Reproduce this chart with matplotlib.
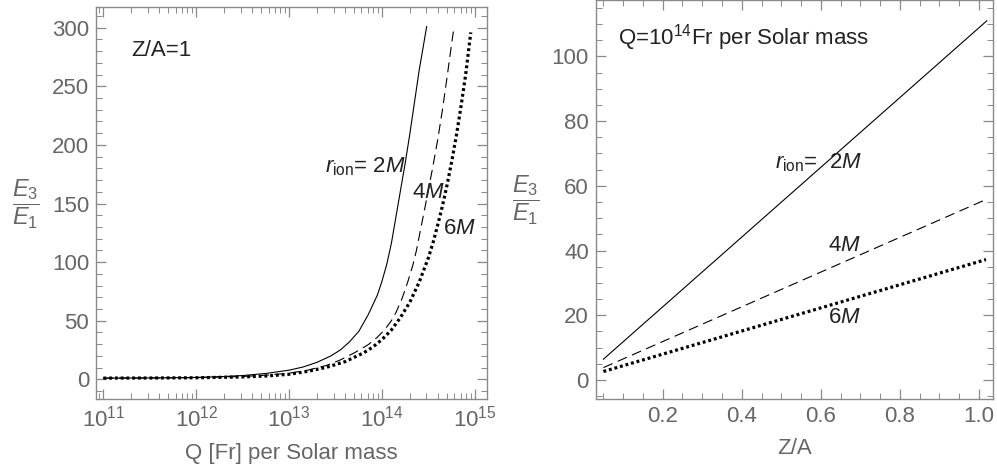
import matplotlib
matplotlib.use("Agg")
import matplotlib.pyplot as plt
import numpy as np
from matplotlib.ticker import MultipleLocator, LogLocator, NullFormatter, FixedLocator

plt.rcParams['font.family'] = ['Liberation Sans', 'DejaVu Sans']
plt.rcParams['mathtext.fontset'] = 'custom'
plt.rcParams['mathtext.rm'] = 'Liberation Sans'
plt.rcParams['mathtext.it'] = 'Liberation Sans:italic'

# left panel: E3/E1 vs log10 Q (Fr per solar mass), Z/A = 1
logq_2m = [11.0, 11.5, 12.0, 12.25, 12.5, 12.75, 13.0, 13.15, 13.3, 13.45,
           13.55, 13.65, 13.75, 13.85, 13.95, 14.0, 14.05, 14.1, 14.15, 14.2,
           14.25, 14.3, 14.35, 14.4, 14.45, 14.48]
val_2m = [1.0, 1.15, 1.6, 2.2, 3.2, 5.0, 7.8, 10.5, 14.5, 20.0,
          25.0, 32.0, 41.0, 55.0, 72.0, 84.0, 98.0, 116.0, 139.0, 162.0,
          185.0, 210.0, 237.0, 264.0, 287.0, 301.0]

logq_4m = [11.0, 11.5, 12.0, 12.5, 12.75, 13.0, 13.2, 13.4, 13.55, 13.7,
           13.85, 13.95, 14.03, 14.1, 14.15, 14.22, 14.28, 14.33, 14.37, 14.44,
           14.5, 14.55, 14.6, 14.65, 14.7, 14.75, 14.775]
val_4m = [1.0, 1.1, 1.4, 2.4, 3.5, 5.2, 7.8, 11.8, 16.5, 22.5,
          29.5, 36.0, 42.5, 50.0, 57.0, 70.0, 84.0, 97.0, 110.0, 138.0,
          162.0, 183.0, 205.0, 230.0, 258.0, 287.0, 301.0]

logq_6m = [11.0, 11.5, 12.0, 12.5, 12.75, 13.0, 13.2, 13.4, 13.6, 13.8,
           13.9, 14.0, 14.1, 14.2, 14.3, 14.4, 14.5, 14.55, 14.6, 14.65,
           14.7, 14.75, 14.8, 14.85, 14.9, 14.955]
val_6m = [1.0, 1.1, 1.3, 2.0, 2.8, 4.3, 6.8, 10.2, 15.0, 22.5,
          27.5, 34.0, 42.0, 53.0, 66.0, 83.0, 104.0, 117.0, 132.0, 148.0,
          166.0, 186.0, 208.0, 233.0, 260.0, 296.0]

# right panel: E3/E1 vs Z/A, Q = 1e14 Fr per solar mass
za_2m = [0.05, 1.02]
line_2m = [6.4, 111.0]
za_4m = [0.05, 1.013]
line_4m = [3.8, 55.5]
za_6m = [0.05, 1.018]
line_6m = [2.6, 37.2]

frame = '#8a8a8a'
ticktxt = '#666666'
ink = '#222222'

fig = plt.figure(figsize=(9.97, 4.72), dpi=100)
ax1 = fig.add_axes([0.0963, 0.1547, 0.3922, 0.8305])
ax2 = fig.add_axes([0.5975, 0.1547, 0.3982, 0.8443])

solid = dict(color='black', lw=0.8)
dashed = dict(color='black', lw=0.8, linestyle=(0, (9, 5)))
dotted = dict(color='black', lw=2.3, linestyle=(0, (0.9, 0.9)))

ax1.plot(10 ** np.array(logq_2m), val_2m, **solid)
ax1.plot(10 ** np.array(logq_4m), val_4m, **dashed)
ax1.plot(10 ** np.array(logq_6m), val_6m, **dotted)
ax1.set_xscale('log')
ax1.set_xlim(10 ** 10.92, 10 ** 15.13)
ax1.set_ylim(-16.8, 317.7)
ax1.yaxis.set_major_locator(MultipleLocator(50))
ax1.yaxis.set_minor_locator(MultipleLocator(10))
ax1.xaxis.set_major_locator(LogLocator(base=10, numticks=10))
ax1.xaxis.set_minor_locator(LogLocator(base=10, subs=np.arange(2, 10), numticks=20))
ax1.xaxis.set_minor_formatter(NullFormatter())

ax2.plot(za_2m, line_2m, **solid)
ax2.plot(za_4m, line_4m, **dashed)
ax2.plot(za_6m, line_6m, **dotted)
ax2.set_xlim(0.0305, 1.035)
ax2.set_ylim(-5.9, 117.3)
ax2.xaxis.set_major_locator(FixedLocator([0.2, 0.4, 0.6, 0.8, 1.0]))
ax2.xaxis.set_minor_locator(MultipleLocator(0.05))
ax2.yaxis.set_major_locator(MultipleLocator(20))
ax2.yaxis.set_minor_locator(MultipleLocator(5))
ax2.set_xticklabels(['0.2', '0.4', '0.6', '0.8', '1.0'])

for ax in (ax1, ax2):
    for sp in ax.spines.values():
        sp.set_color(frame)
        sp.set_linewidth(1.0)
    ax.tick_params(which='both', direction='in', top=True, right=True,
                   color=frame, labelcolor=ticktxt, labelsize=16)
    ax.tick_params(which='major', length=7, width=0.9, pad=5)
    ax.tick_params(which='minor', length=4, width=0.7)

ax1.set_xlabel('Q [Fr] per Solar mass', fontsize=16, color=ticktxt, labelpad=8)
ax2.set_xlabel('Z/A', fontsize=16, color=ticktxt, labelpad=8)
fig.text(0.026, 0.566, r'$\dfrac{E_3}{E_1}$', fontsize=17, color=ticktxt,
         ha='center', va='center')
fig.text(0.527, 0.575, r'$\dfrac{E_3}{E_1}$', fontsize=17, color=ticktxt,
         ha='center', va='center')

ax1.text(0.09, 0.89, 'Z/A=1', transform=ax1.transAxes, fontsize=16, color=ink,
         va='center')
ax1.text(2.45e13, 181, r'$r_{\mathrm{ion}}$= 2$M$', fontsize=16, color=ink,
         va='center')
ax1.text(2.1e14, 159, r'4$M$', fontsize=16, color=ink, va='center')
ax1.text(4.5e14, 129, r'6$M$', fontsize=16, color=ink, va='center')

ax2.text(0.056, 0.907, r'Q=10$^{14}$Fr per Solar mass', transform=ax2.transAxes,
         fontsize=16, color=ink, va='center')
ax2.text(0.484, 67.3, r'$r_{\mathrm{ion}}$=  2$M$', fontsize=16, color=ink,
         va='center')
ax2.text(0.618, 41.4, r'4$M$', fontsize=16, color=ink, va='center')
ax2.text(0.618, 19.4, r'6$M$', fontsize=16, color=ink, va='center')

fig.savefig('out.png', dpi=100)
